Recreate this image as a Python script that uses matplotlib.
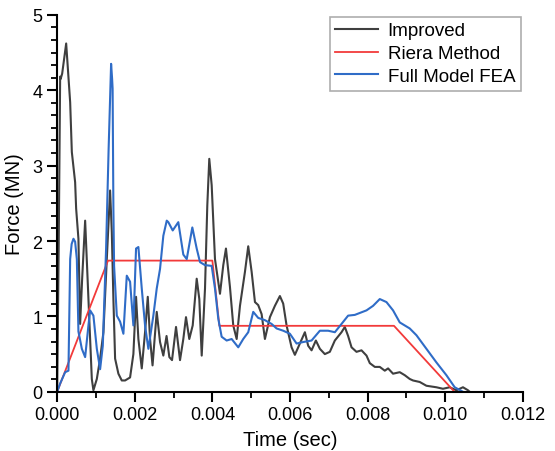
import matplotlib
matplotlib.use("Agg")
import matplotlib.pyplot as plt
from matplotlib.ticker import MultipleLocator, AutoMinorLocator, FormatStrFormatter

plt.rcParams["font.family"] = ["Liberation Sans", "DejaVu Sans"]

# Improved model (time in ms, force in MN)
improved_t = [
    0.0, 0.039, 0.077, 0.09, 0.129, 0.232, 0.335, 0.378, 0.463, 0.489,
    0.548, 0.592, 0.644, 0.721, 0.806, 0.893, 0.934, 1.022, 1.107, 1.192,
    1.279, 1.364, 1.408, 1.449, 1.493, 1.578, 1.665, 1.750, 1.879, 1.964,
    2.033, 2.093, 2.180, 2.265, 2.335, 2.394, 2.458, 2.566, 2.651, 2.736,
    2.819, 2.891, 2.960, 3.063, 3.166, 3.251, 3.320, 3.405, 3.493, 3.596,
    3.663, 3.725, 3.810, 3.869, 3.920, 3.982, 4.067, 4.196, 4.281, 4.350,
    4.453, 4.538, 4.626, 4.711, 4.839, 4.924, 5.012, 5.097, 5.181, 5.269,
    5.354, 5.483, 5.611, 5.740, 5.825, 5.912, 6.041, 6.126, 6.255, 6.384,
    6.469, 6.556, 6.667, 6.770, 6.898, 7.027, 7.156, 7.328, 7.413, 7.498,
    7.586, 7.714, 7.843, 7.972, 8.057, 8.186, 8.314, 8.443, 8.528, 8.656,
    8.829, 8.958, 9.086, 9.171, 9.344, 9.516, 9.773, 9.943, 10.116, 10.288,
    10.458, 10.587, 10.631,
]
improved_f = [
    0.0, 1.90, 4.18, 4.15, 4.22, 4.62, 3.84, 3.18, 2.78, 2.43,
    2.03, 0.90, 1.50, 2.27, 1.23, 0.17, 0.02, 0.17, 0.44, 0.79,
    1.76, 2.67, 2.12, 1.23, 0.44, 0.24, 0.15, 0.15, 0.19, 0.50,
    1.26, 0.70, 0.31, 0.79, 1.26, 0.70, 0.35, 1.06, 0.66, 0.48,
    0.74, 0.46, 0.42, 0.86, 0.42, 0.70, 0.99, 0.70, 0.88, 1.50,
    1.23, 0.48, 1.37, 2.47, 3.09, 2.74, 1.76, 1.30, 1.68, 1.90,
    1.39, 0.88, 0.70, 1.14, 1.59, 1.93, 1.59, 1.19, 1.15, 1.03,
    0.70, 0.99, 1.14, 1.27, 1.17, 0.88, 0.59, 0.49, 0.64, 0.79,
    0.61, 0.55, 0.68, 0.57, 0.50, 0.53, 0.68, 0.79, 0.86, 0.74,
    0.59, 0.53, 0.55, 0.48, 0.38, 0.33, 0.33, 0.28, 0.31, 0.24,
    0.26, 0.22, 0.17, 0.15, 0.13, 0.08, 0.06, 0.04, 0.06, 0.02,
    0.06, 0.02, 0.0,
]

# Riera method
riera_t = [0.0, 1.31, 4.00, 4.18, 8.68, 10.24]
riera_f = [0.0, 1.74, 1.74, 0.875, 0.875, 0.0]

# Full model FEA
fea_t = [
    0.0, 0.077, 0.206, 0.291, 0.335, 0.373, 0.420, 0.463, 0.507, 0.548,
    0.636, 0.721, 0.806, 0.849, 0.934, 1.022, 1.107, 1.176, 1.261, 1.326,
    1.390, 1.416, 1.429, 1.449, 1.467, 1.537, 1.622, 1.707, 1.794, 1.879,
    1.964, 2.033, 2.093, 2.180, 2.265, 2.350, 2.479, 2.566, 2.651, 2.736,
    2.824, 2.865, 2.978, 3.122, 3.251, 3.339, 3.483, 3.596, 3.681, 3.810,
    3.982, 4.067, 4.152, 4.239, 4.368, 4.497, 4.667, 4.795, 4.924, 5.053,
    5.181, 5.354, 5.526, 5.655, 5.825, 5.997, 6.170, 6.340, 6.556, 6.770,
    6.983, 7.156, 7.328, 7.498, 7.671, 7.972, 8.141, 8.314, 8.486, 8.656,
    8.829, 9.086, 9.259, 9.516, 9.773, 10.031, 10.245, 10.458,
]
fea_f = [
    0.0, 0.11, 0.26, 0.28, 1.76, 1.96, 2.03, 1.99, 1.76, 0.80,
    0.57, 0.46, 0.88, 1.08, 1.01, 0.57, 0.30, 0.61, 1.90, 3.22,
    4.35, 4.15, 4.02, 2.43, 1.67, 1.01, 0.93, 0.77, 1.54, 1.46,
    0.88, 1.90, 1.92, 1.37, 0.88, 0.57, 1.01, 1.37, 1.63, 2.07,
    2.27, 2.25, 2.14, 2.25, 1.82, 1.76, 2.18, 1.90, 1.72, 1.68,
    1.67, 1.37, 0.97, 0.73, 0.68, 0.70, 0.59, 0.70, 0.79, 1.06,
    0.98, 0.95, 0.90, 0.84, 0.81, 0.77, 0.64, 0.66, 0.68, 0.81,
    0.81, 0.79, 0.90, 1.01, 1.02, 1.08, 1.14, 1.23, 1.19, 1.08,
    0.92, 0.84, 0.75, 0.57, 0.39, 0.22, 0.06, 0.0,
]


def ms_to_s(values):
    return [v / 1000.0 for v in values]


fig = plt.figure(figsize=(5.55, 4.52), dpi=100)
ax = fig.add_axes([0.103, 0.131, 0.839, 0.834])

ax.plot(ms_to_s(improved_t), improved_f, color="#3f3f3f", lw=1.5, label="Improved")
ax.plot(ms_to_s(riera_t), riera_f, color="#f23a3a", lw=1.3, label="Riera Method")
ax.plot(ms_to_s(fea_t), fea_f, color="#2f6cc7", lw=1.5, label="Full Model FEA")

ax.set_xlim(0, 0.012)
ax.set_ylim(0, 5)
ax.xaxis.set_major_locator(MultipleLocator(0.002))
ax.xaxis.set_minor_locator(AutoMinorLocator(2))
ax.xaxis.set_major_formatter(FormatStrFormatter("%.3f"))
ax.yaxis.set_major_locator(MultipleLocator(1))
ax.yaxis.set_minor_locator(AutoMinorLocator(6))

for side in ["top", "right"]:
    ax.spines[side].set_visible(False)
for side in ["left", "bottom"]:
    ax.spines[side].set_linewidth(1.5)

ax.tick_params(which="major", direction="out", length=7, width=1.5, labelsize=13)
ax.tick_params(which="minor", direction="out", length=4, width=1.3)

ax.set_xlabel("Time (sec)", fontsize=14.5, labelpad=5)
ax.set_ylabel("Force (MN)", fontsize=14.5, labelpad=6)

leg = ax.legend(loc="upper right", bbox_to_anchor=(1.0, 1.0), fontsize=13.5,
                frameon=True, fancybox=False, edgecolor="#999999",
                handlelength=2.3, handletextpad=0.5, borderpad=0.3,
                labelspacing=0.3, borderaxespad=0.1)
leg.get_frame().set_linewidth(1.2)

fig.savefig("out.png", dpi=100)
